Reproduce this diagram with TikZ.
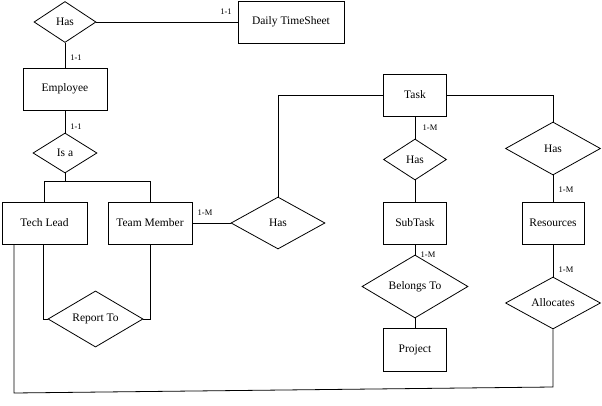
\documentclass[tikz,border=0pt]{standalone}
\usepackage{fontspec}
\setmainfont{Liberation Serif}
\usetikzlibrary{shapes.geometric}

\begin{document}
\begin{tikzpicture}[x=1pt, y=-1pt, line width=0.8pt,
    entity/.style={rectangle, draw, inner sep=0pt, minimum height=42pt, font=\fontsize{11.5}{13}\selectfont},
    rel/.style={diamond, draw, inner sep=0pt, font=\fontsize{11.5}{13}\selectfont},
    card/.style={font=\fontsize{8.5}{10}\selectfont, inner sep=0pt}]
      \useasboundingbox (0,0) rectangle (602,406);

      % entities
      \node[entity, minimum width=106pt] (dts) at (291,22) {Daily TimeSheet};
      \node[entity, minimum width=84pt] (emp) at (65,89) {Employee};
      \node[entity, minimum width=85pt] (tech) at (44.5,223) {Tech Lead};
      \node[entity, minimum width=84pt] (team) at (150,223) {Team Member};
      \node[entity, minimum width=63pt] (task) at (415,95) {Task};
      \node[entity, minimum width=63pt] (sub) at (415,223) {SubTask};
      \node[entity, minimum width=62pt] (res) at (553,223) {Resources};
      \node[entity, minimum width=63pt, minimum height=43pt] (proj) at (415,350) {Project};

      % relationships
      \node[rel, minimum width=62pt, minimum height=41pt] (hasdts) at (65,22) {Has};
      \node[rel, minimum width=64pt, minimum height=40pt] (isa) at (65,153) {Is a};
      \node[rel, minimum width=94pt, minimum height=52pt] (hastask) at (278,223) {Has};
      \node[rel, minimum width=63pt, minimum height=41pt] (hassub) at (415,159.5) {Has};
      \node[rel, minimum width=95pt, minimum height=53pt] (hasres) at (553,148.5) {Has};
      \node[rel, minimum width=106pt, minimum height=41pt] (belongs) at (415,286.5) {Belongs To};
      \node[rel, minimum width=95pt, minimum height=52pt] (alloc) at (553,303) {Allocates};
      \node[rel, minimum width=95pt, minimum height=52pt] (report) at (95.5,319) {Report To};

      \coordinate (c1) at (553,387);
      \coordinate (c2) at (14,393);

      % connectors
      \draw (hasdts) -- (dts);
      \draw (hasdts) -- (emp);
      \draw (emp) -- (isa);
      \draw (isa.south) -- ++(0,8) -| (tech.north);
      \draw (isa.south) -- ++(0,8) -| (team.north);
      \draw (team) -- (hastask);
      \draw (hastask.north) |- (task.west);
      \draw (task) -- (hassub);
      \draw (hassub) -- (sub);
      \draw (task.east) -| (hasres.north);
      \draw (hasres) -- (res);
      \draw (res) -- (alloc);
      \draw (sub) -- (belongs);
      \draw (belongs) -- (proj);
      \draw ([xshift=-1.5pt]tech.south) |- (report.west);
      \draw (team.south) |- (report.east);
      \draw (alloc.south) -- (c1) -- (c2) -- (c2 |- tech.south);

      % cardinalities
      \node[card] (k1) at (226,12) {1-1};
      \node[card] (k2) at (76,58) {1-1};
      \node[card] (k3) at (76,127) {1-1};
      \node[card] (k4) at (205,213) {1-M};
      \node[card] (k5) at (430,128) {1-M};
      \node[card] (k6) at (566,190) {1-M};
      \node[card] (k7) at (566,270) {1-M};
      \node[card] (k8) at (428,255) {1-M};
\end{tikzpicture}
\end{document}
